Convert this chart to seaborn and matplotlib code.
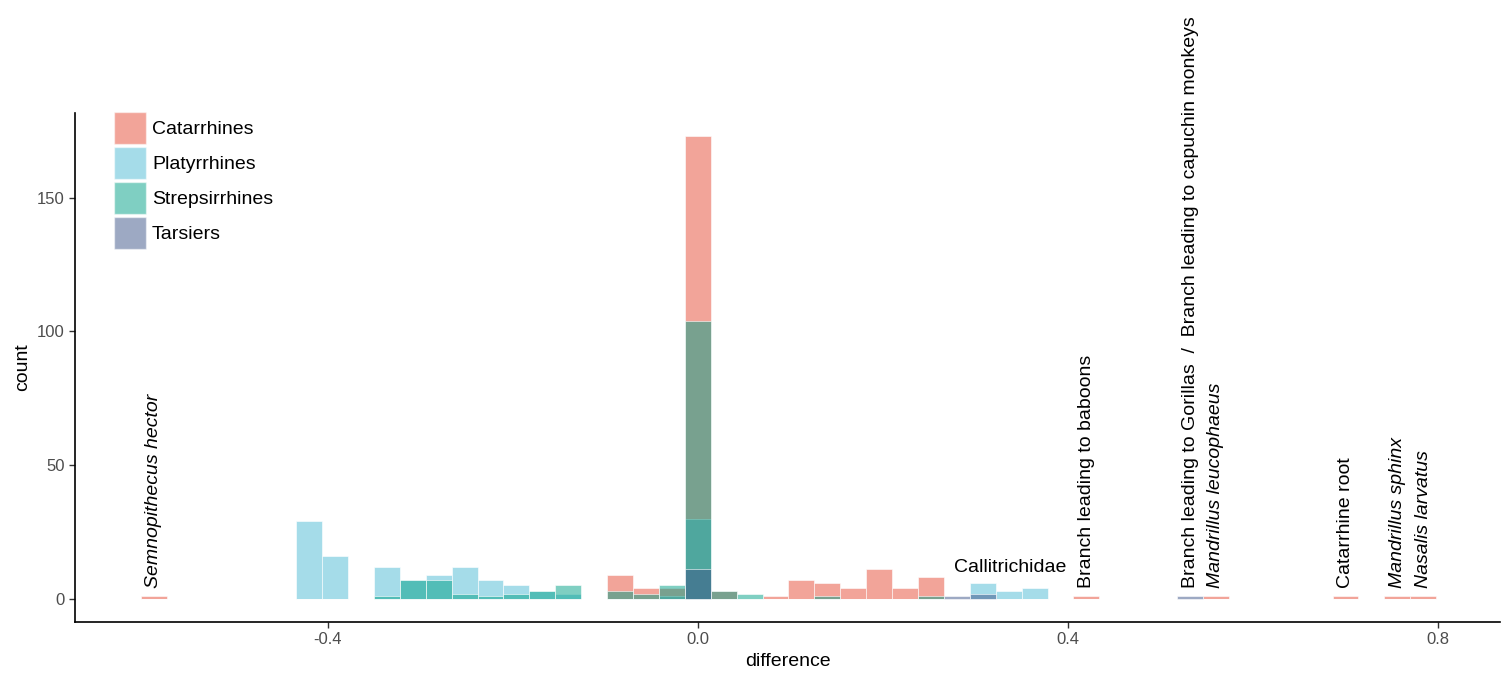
import numpy as np
import pandas as pd
import matplotlib.pyplot as plt
import seaborn as sns
from matplotlib.patches import Patch

sns.set_style("ticks")
plt.rcParams['font.family'] = ['Liberation Sans', 'DejaVu Sans']
plt.rcParams['axes.unicode_minus'] = False
plt.rcParams['text.color'] = 'black'
plt.rcParams['axes.labelcolor'] = 'black'

binwidth = 0.028

# bin index (difference = index * binwidth) and counts for each clade
cat_bins = [-21, -3, -2, -1, 0, 1, 3, 4, 5, 6, 7, 8, 9, 15, 20, 25, 27, 28]
cat_counts = [1, 9, 4, 4, 173, 3, 1, 7, 6, 4, 11, 4, 8, 1, 1, 1, 1, 1]
plat_bins = [-15, -14, -12, -11, -10, -9, -8, -7, -6, -5, -1, 0, 11, 12, 13]
plat_counts = [29, 16, 12, 7, 9, 12, 7, 5, 3, 2, 1, 30, 6, 3, 4]
strep_bins = [-12, -11, -10, -9, -8, -7, -6, -5, -3, -2, -1, 0, 1, 2, 5, 9]
strep_counts = [1, 7, 7, 2, 1, 2, 3, 5, 3, 2, 5, 104, 3, 2, 1, 1]
tars_bins = [0, 10, 11, 19]
tars_counts = [11, 1, 2, 1]

clades = ["Catarrhines", "Platyrrhines", "Strepsirrhines", "Tarsiers"]
colors = ["#E64B35", "#4DBBD5", "#00A087", "#3C5488"]

# labelled branches
ann_text = ["Semnopithecus hector", "Branch leading to baboons",
            "Branch leading to Gorillas  /  Branch leading to capuchin monkeys",
            "Mandrillus leucophaeus", "Catarrhine root", "Mandrillus sphinx",
            "Nasalis larvatus"]
ann_bins = [-21, 15, 19, 20, 25, 27, 28]
ann_italic = [True, False, False, True, False, True, True]

frames = []
for name, b, c in zip(clades,
                      [cat_bins, plat_bins, strep_bins, tars_bins],
                      [cat_counts, plat_counts, strep_counts, tars_counts]):
    frames.append(pd.DataFrame({'clade': name,
                                'difference': np.array(b) * binwidth,
                                'count': c}))
df = pd.concat(frames, ignore_index=True)

edges = [(i - 0.5) * binwidth for i in range(-21, 30)]

fig = plt.figure(figsize=(15.09, 6.73), dpi=100)
ax = fig.add_axes([75 / 1509, 1 - 622 / 673, 1425 / 1509, 509 / 673])

for name, col in zip(clades, colors):
    sub = df[df['clade'] == name]
    sns.histplot(data=sub, x='difference', weights='count', bins=edges,
                 color=col, alpha=0.5, edgecolor='white', linewidth=0.4, ax=ax)

for txt, b, it in zip(ann_text, ann_bins, ann_italic):
    ax.text(b * binwidth, 4, txt, rotation=90, ha='center', va='bottom',
            fontsize=14, style='italic' if it else 'normal')
ax.text(0.3376, 10, "Callitrichidae", ha='center', va='baseline', fontsize=14)

ax.set_xlim(-0.673, 0.867)
ax.set_ylim(-8.65, 181.65)
ax.set_xticks([-0.4, 0.0, 0.4, 0.8])
ax.set_xticklabels(["-0.4", "0.0", "0.4", "0.8"])
ax.set_yticks([0, 50, 100, 150])
ax.set_xlabel("difference", fontsize=14)
ax.set_ylabel("count", fontsize=14)
ax.tick_params(length=4, width=1, color='#333333', labelcolor='#4D4D4D', labelsize=12)
sns.despine(ax=ax)
for s in ['left', 'bottom']:
    ax.spines[s].set_linewidth(1.2)
    ax.spines[s].set_color('black')

handles = [Patch(facecolor=c, alpha=0.5, edgecolor='white') for c in colors]
fig.legend(handles, clades, loc='upper left',
           bbox_to_anchor=(114 / 1509, 1 - 112 / 673), bbox_transform=fig.transFigure,
           frameon=False, fontsize=14, handlelength=1.65, handleheight=2.16,
           labelspacing=0.15, handletextpad=0.3, borderpad=0, borderaxespad=0)

plt.savefig("out.png", dpi=100)
